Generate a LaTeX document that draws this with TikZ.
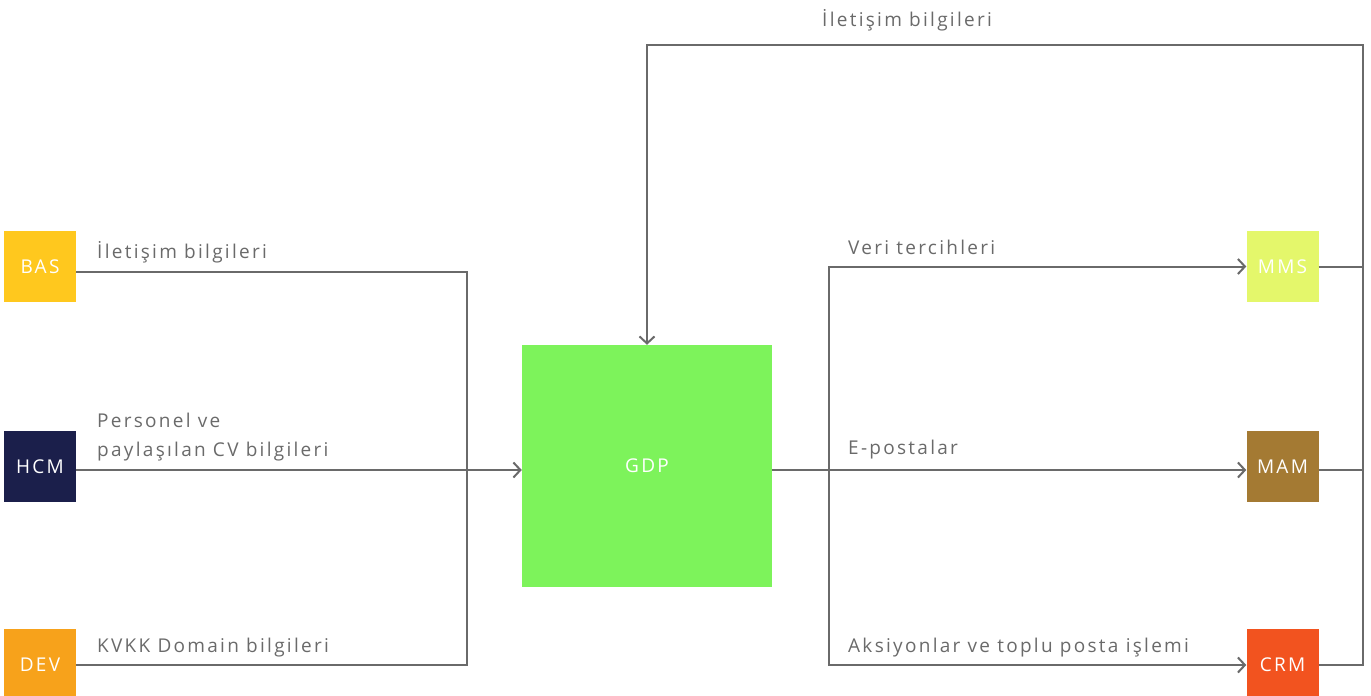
\documentclass[tikz,border=0pt]{standalone}
\usepackage{fontspec}
\setmainfont{Open Sans}[LetterSpace=12]
\usetikzlibrary{arrows.meta}
\definecolor{cBAS}{HTML}{FFC81E}
\definecolor{cHCM}{HTML}{1B1F4B}
\definecolor{cDEV}{HTML}{F7A21B}
\definecolor{cGDP}{HTML}{7DF35B}
\definecolor{cMMS}{HTML}{E4F76B}
\definecolor{cMAM}{HTML}{A47A33}
\definecolor{cCRM}{HTML}{F2531F}
\definecolor{lineg}{HTML}{6A6A6A}
\definecolor{textg}{HTML}{6A6A6A}
\tikzset{
  sysbox/.style={draw=none, minimum width=72pt, minimum height=71pt, inner sep=0pt,
    text=white, font=\fontsize{19}{23}\selectfont},
  conn/.style={draw=lineg, line width=2pt},
  arr/.style={conn, -{Straight Barb[length=7pt,width=15pt,line width=2pt]}},
  lbl/.style={anchor=west, inner sep=0pt, text=textg, font=\fontsize{19}{29}\selectfont, align=left}
}
\begin{document}
\begin{tikzpicture}[x=1pt,y=-1pt]
\useasboundingbox (0,0) rectangle (1371,696);
% boxes
\node[sysbox, fill=cBAS] (BAS) at (40,266.5) {BAS};
\node[sysbox, fill=cHCM] (HCM) at (40,466.5) {HCM};
\node[sysbox, fill=cDEV] (DEV) at (40,664.5) {DEV};
\node[sysbox, fill=cGDP, minimum width=250pt, minimum height=242pt] (GDP) at (647,466) {GDP};
\node[sysbox, fill=cMMS] (MMS) at (1282.5,266.5) {MMS};
\node[sysbox, fill=cMAM] (MAM) at (1282.5,466.5) {MAM};
\node[sysbox, fill=cCRM] (CRM) at (1282.5,664.5) {CRM};
% junctions
\coordinate (jL) at (467,470);
\coordinate (jR) at (829,470);
\coordinate (jT) at (1363,45);
% left side
\draw[conn] ([yshift=-5.5pt]BAS.east) -| (jL);
\draw[conn] ([yshift=-0.5pt]DEV.east) -| (jL);
\draw[arr] ([yshift=-3.5pt]HCM.east) -- ([yshift=-4pt]GDP.west);
% right side
\draw[arr] ([yshift=-4pt]GDP.east) -- ([yshift=-3.5pt]MAM.west);
\draw[arr] (jR) |- (MMS.west);
\draw[arr] (jR) |- ([yshift=-0.5pt]CRM.west);
% feedback
\draw[conn] (MMS.east) -- (MMS.east -| jT);
\draw[conn] ([yshift=-3.5pt]MAM.east) -- ([yshift=-3.5pt]MAM.east -| jT);
\draw[arr] ([yshift=-0.5pt]CRM.east) -| (jT) -| (GDP.north);
% labels
\node[lbl] (l1) at (97,252) {İletişim bilgileri};
\node[lbl] (l2) at (97,437) {Personel ve\\paylaşılan CV bilgileri};
\node[lbl] (l3) at (97,648) {KVKK Domain bilgileri};
\node[lbl] (l4) at (848,247) {Veri tercihleri};
\node[lbl] (l5) at (848,450) {E-postalar};
\node[lbl] (l6) at (848,648) {Aksiyonlar ve toplu posta işlemi};
\node[lbl] (l7) at (822,20) {İletişim bilgileri};
\end{tikzpicture}
\end{document}
